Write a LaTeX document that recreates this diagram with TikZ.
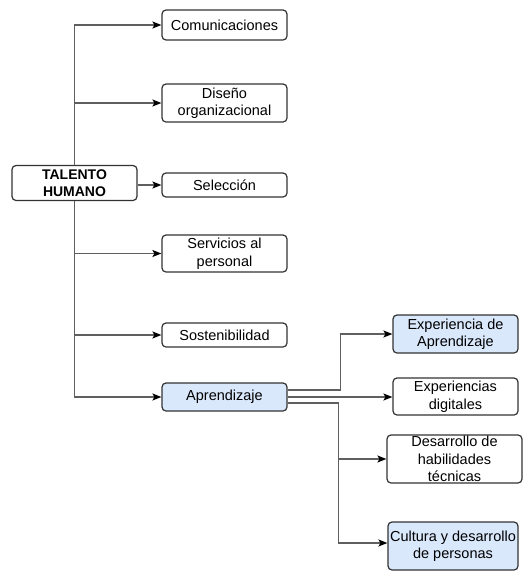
\documentclass[tikz,border=0pt]{standalone}
\usepackage{fontspec}
\setmainfont{Liberation Sans}
\usetikzlibrary{arrows.meta}
\definecolor{lightblue}{HTML}{DAE8FC}
\definecolor{linegray}{HTML}{5F5F5F}
\definecolor{boxline}{HTML}{333333}
\begin{document}
\begin{tikzpicture}[x=1pt,y=-1pt,
  box/.style={draw=boxline, line width=1.2pt, rounded corners=4pt, fill=white,
    minimum width=125pt, inner sep=0pt, align=center,
    font=\fontsize{14.5}{17.5}\selectfont},
  bluebox/.style={box, fill=lightblue},
  conn/.style={draw=linegray, line width=1.3pt,
    -{Stealth[length=9pt,width=7pt,inset=2pt,color=black]}}]
\useasboundingbox[fill=white] (0,0) rectangle (523,571);

\node[box, minimum height=35pt, font=\fontsize{14}{17}\selectfont\bfseries] (th) at (74.5,183) {TALENTO\\HUMANO};

\node[box, minimum height=30pt] (com) at (224.5,25) {Comunicaciones};
\node[box, minimum height=38pt] (dis) at (224.5,103) {Diseño\\organizacional};
\node[box, minimum height=24pt] (sel) at (224.5,185) {Selección};
\node[box, minimum height=37pt] (ser) at (224.5,253.5) {Servicios al\\personal};
\node[box, minimum height=24pt] (sos) at (224.5,335) {Sostenibilidad};
\node[bluebox, minimum height=28pt] (apr) at (224.5,397) {Aprendizaje};

\node[bluebox, minimum height=38pt] (eda) at (455.5,334) {Experiencia de\\Aprendizaje};
\node[box, minimum height=37pt] (edig) at (455.5,396.5) {Experiencias\\digitales};
\node[box, minimum height=48pt, minimum width=135pt] (dht) at (454.5,459) {Desarrollo de\\habilidades\\técnicas};
\node[bluebox, minimum height=48pt, minimum width=130pt] (cul) at (453,546) {Cultura y desarrollo\\de personas};

\draw[conn] (th.north) |- (com.west);
\draw[conn] (th.north) |- (dis.west);
\draw[conn] (th.east |- sel.west) -- (sel.west);
\draw[conn] (th.south) |- (ser.west);
\draw[conn] (th.south) |- (sos.west);
\draw[conn] (th.south) |- (apr.west);

\draw[conn] ([yshift=7pt]apr.east) -- ++(53,0) |- (eda.west);
\draw[conn] (apr.east) -- (apr.east -| edig.west);
\draw[conn] ([yshift=-6pt]apr.east) -- ++(51,0) |- (dht.west);
\draw[conn] ([yshift=-6pt]apr.east) -- ++(51,0) |- ([yshift=3pt]cul.west);
\end{tikzpicture}
\end{document}
